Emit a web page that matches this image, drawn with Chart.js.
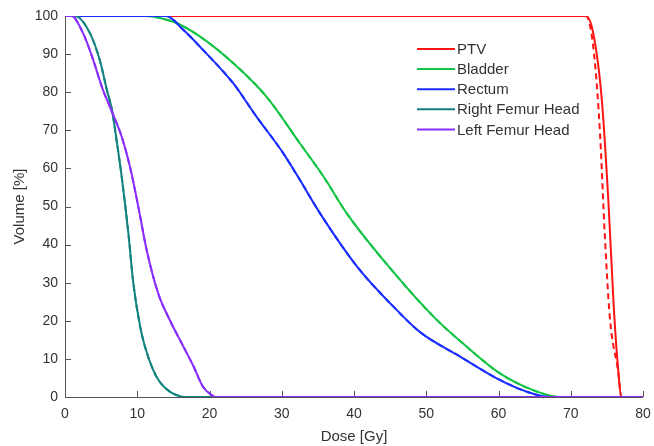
<!DOCTYPE html>
<html>
<head>
<meta charset="utf-8">
<script src="https://cdn.jsdelivr.net/npm/chart.js@4/dist/chart.umd.min.js"></script>
<style>
  html, body { margin: 0; padding: 0; background: #fff; }
  #wrap { width: 654px; height: 446px; }
</style>
</head>
<body>
<div id="wrap"><canvas id="dvhChart" width="654" height="446"></canvas></div>
<script>
// DVH data (dose in Gy, volume in %)
const ptvDose = [0, 72.1, 73.1, 74.3, 75.2, 75.9, 76.35, 77.05, 80];
const ptvVol = [100, 100, 95.6, 78, 51.7, 25.5, 12.3, 0, 0];
const ptvDoseB = [0, 72.1, 72.7, 73.4, 74.05, 74.7, 75.4, 76.6, 77, 80];
const ptvVolB = [100, 100, 97.2, 86.7, 69.2, 43, 21.1, 6.2, 0, 0];

const bladderDose = [0, 11.3, 13.5, 15.5, 18.7, 23.3, 27.9, 32.5, 35.8, 39.0, 45.0, 51.0, 55.6, 60.2, 64.8, 68.5, 80];
const bladderVol = [100, 100, 99.3, 98.1, 94.6, 87.6, 78.8, 66.6, 57.8, 48.2, 33.8, 21.1, 13.2, 6.2, 1.8, 0, 0];

const rectumDose = [0, 14, 16.4, 19.1, 23.3, 26.5, 30.2, 32.5, 35.3, 40.6, 45.0, 49.1, 54.7, 59.75, 63.9, 67.1, 80];
const rectumVol = [100, 100, 96.3, 91.1, 82.3, 73.6, 64, 57, 48.2, 33.8, 24.6, 17.1, 10.6, 4.9, 1.4, 0, 0];

const rightFemurDose = [0, 1.4, 3.5, 4.8, 5.8, 6.5, 7.2, 7.85, 8.77, 9.46, 10.4, 11.07, 12.2, 13.1, 14.5, 15.9, 16.5, 80];
const rightFemurVol = [100, 100, 95.3, 88.5, 80.6, 75.3, 66.6, 57.8, 43, 29.8, 18.5, 13.2, 7.1, 4.0, 1.4, 0.2, 0, 0];

const leftFemurDose = [0, 0.9, 2.5, 3.9, 5.1, 6.2, 7.85, 9.0, 10.15, 11.3, 12.9, 14.5, 16.4, 17.8, 19.1, 20.3, 20.8, 80];
const leftFemurVol = [100, 100, 95.5, 88.5, 81.4, 76.2, 68.3, 60.4, 49.9, 38.6, 27.2, 20.2, 13.2, 8.0, 2.7, 0.5, 0, 0];

const xTicks = [0, 10, 20, 30, 40, 50, 60, 70, 80];
const yTicks = [0, 10, 20, 30, 40, 50, 60, 70, 80, 90, 100];

const FONT = "'Liberation Sans', Arial, sans-serif";
const TEXT = '#333333';
const AXIS = '#555555';

function pts(xs, ys) {
    return xs.map((x, i) => ({ x: x, y: ys[i] }));
}

let drawOrder = 20;

function line(label, xs, ys, color, dashed) {
    return {
        label: label,
        data: pts(xs, ys),
        borderColor: color,
        backgroundColor: color,
        borderWidth: 2,
        borderDash: dashed ? [6, 4] : [],
        pointRadius: 0,
        cubicInterpolationMode: 'monotone',
        fill: false,
        order: drawOrder--, // later series end up on top, like matlab
        inLegend: !dashed
    };
}

// axis lines with inward ticks, matlab style (under the curves)
const inwardTicks = {
    id: 'inwardTicks',
    beforeDatasetsDraw(chart) {
        const ctx = chart.ctx;
        const xs = chart.scales.x, ys = chart.scales.y;
        const area = chart.chartArea;
        ctx.save();
        ctx.strokeStyle = AXIS;
        ctx.lineWidth = 1;
        ctx.beginPath();
        ctx.moveTo(area.left + 0.5, area.top);
        ctx.lineTo(area.left + 0.5, area.bottom + 0.5);
        ctx.lineTo(area.right, area.bottom + 0.5);
        xTicks.forEach(v => {
            const px = Math.round(xs.getPixelForValue(v)) + 0.5;
            ctx.moveTo(px, area.bottom);
            ctx.lineTo(px, area.bottom - 6);
        });
        yTicks.forEach(v => {
            const py = Math.round(ys.getPixelForValue(v)) + 0.5;
            ctx.moveTo(area.left, py);
            ctx.lineTo(area.left + 6, py);
        });
        ctx.stroke();
        ctx.restore();
    }
};

// legend drawn inside the plot, no box
const innerLegend = {
    id: 'innerLegend',
    afterDraw(chart) {
        const ctx = chart.ctx;
        const items = chart.data.datasets.filter(d => d.inLegend);
        ctx.save();
        ctx.font = '15px ' + FONT;
        ctx.textBaseline = 'middle';
        items.forEach((d, i) => {
            const y = 49 + i * 20.1;
            ctx.strokeStyle = d.borderColor;
            ctx.lineWidth = 2;
            ctx.beginPath();
            ctx.moveTo(417, y);
            ctx.lineTo(455, y);
            ctx.stroke();
            ctx.fillStyle = TEXT;
            ctx.fillText(d.label, 457, y + 1);
        });
        ctx.restore();
    }
};

const ctx = document.getElementById('dvhChart').getContext('2d');

new Chart(ctx, {
    type: 'line',
    data: {
        datasets: [
            line('PTV', ptvDose, ptvVol, '#ff1414', false),
            line('PTV', ptvDoseB, ptvVolB, '#ff1414', true),
            line('Bladder', bladderDose, bladderVol, '#12c443', false),
            line('Bladder', bladderDose, bladderVol, '#12c443', true),
            line('Rectum', rectumDose, rectumVol, '#1a2eff', false),
            line('Rectum', rectumDose, rectumVol, '#1a2eff', true),
            line('Right Femur Head', rightFemurDose, rightFemurVol, '#12837f', false),
            line('Right Femur Head', rightFemurDose, rightFemurVol, '#12837f', true),
            line('Left Femur Head', leftFemurDose, leftFemurVol, '#8a2eff', false),
            line('Left Femur Head', leftFemurDose, leftFemurVol, '#8a2eff', true)
        ]
    },
    options: {
        responsive: false,
        animation: false,
        devicePixelRatio: 1,
        layout: {
            padding: { top: 16, right: 11, left: 0, bottom: 0 }
        },
        plugins: {
            legend: { display: false },
            tooltip: { enabled: false }
        },
        scales: {
            x: {
                type: 'linear',
                min: 0,
                max: 80,
                afterBuildTicks: scale => {
                    scale.ticks = xTicks.map(v => ({ value: v }));
                },
                afterFit: scale => {
                    scale.height = 49;
                    scale.paddingLeft = 0;
                    scale.paddingRight = 0;
                },
                grid: { display: false, drawTicks: false },
                border: { display: false },
                ticks: {
                    padding: 9,
                    color: TEXT,
                    font: { family: FONT, size: 14 }
                },
                title: {
                    display: true,
                    text: 'Dose [Gy]',
                    color: TEXT,
                    padding: { top: 0, bottom: 0 },
                    font: { family: FONT, size: 15 }
                }
            },
            y: {
                type: 'linear',
                min: 0,
                max: 100,
                afterBuildTicks: scale => {
                    scale.ticks = yTicks.map(v => ({ value: v }));
                },
                afterFit: scale => {
                    scale.width = 65;
                    scale.paddingTop = 0;
                    scale.paddingBottom = 0;
                },
                grid: { display: false, drawTicks: false },
                border: { display: false },
                ticks: {
                    padding: 7,
                    color: TEXT,
                    font: { family: FONT, size: 14 }
                },
                title: {
                    display: true,
                    text: 'Volume [%]',
                    color: TEXT,
                    padding: { top: 11, bottom: 4 },
                    font: { family: FONT, size: 15 }
                }
            }
        }
    },
    plugins: [inwardTicks, innerLegend]
});
</script>
</body>
</html>
